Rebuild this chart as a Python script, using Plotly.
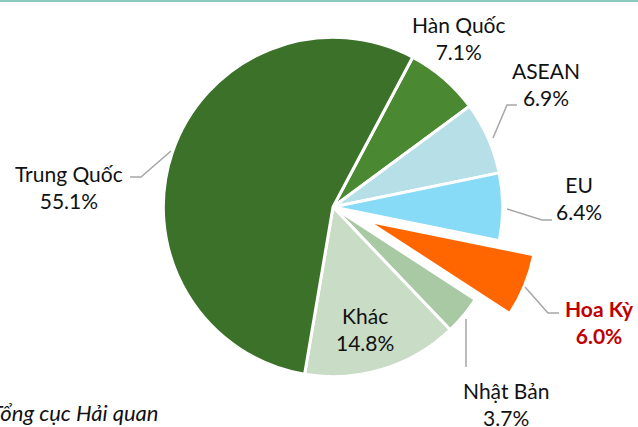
import plotly.graph_objects as go

# Data (share of imports by market, %)
labels = ["Hàn Quốc", "ASEAN", "EU", "Hoa Kỳ", "Nhật Bản", "Khác", "Trung Quốc"]
values = [7.1, 6.9, 6.4, 6.0, 3.7, 14.8, 55.1]
colors = ["#4A8932", "#B7DFE8", "#88DBF6", "#FF6600", "#A9C8A4", "#C9DCC5", "#3B7129"]
source = "Nguồn: Tổng cục Hải quan"

W, H = 638, 427
FONT = "Lato"


def px(x, y):
    # pixel position -> paper coords
    return x / W, 1 - y / H


fig = go.Figure(go.Pie(
    labels=labels,
    values=values,
    sort=False,
    direction="clockwise",
    rotation=28,
    pull=[0, 0, 0, 0.22, 0, 0, 0],
    marker=dict(colors=colors, line=dict(color="white", width=3)),
    textinfo="none",
    hoverinfo="label+percent",
    showlegend=False,
    domain=dict(x=[0.1975, 0.8464], y=[0.0304, 1.0]),
))

# label positions (pixel centers) and leader lines
label_pos = {
    "Hàn Quốc": (459, 38),
    "ASEAN": (546, 84),
    "EU": (579, 198),
    "Hoa Kỳ": (599, 322),
    "Nhật Bản": (506, 404),
    "Khác": (365, 329),
    "Trung Quốc": (69, 187),
}
leaders = [
    [(130, 177), (141, 177), (171, 151)],
    [(517, 105), (507, 105), (493, 138)],
    [(507, 209), (542, 220), (552, 220)],
    [(525, 287), (548, 313), (559, 313)],
    [(466, 319), (466, 367)],
]

annotations = []
for lab, val in zip(labels, values):
    x, y = px(*label_pos[lab])
    if lab == "Hoa Kỳ":
        text = f"<b>{lab}<br>{val:.1f}%</b>"
        col = "#C00000"
    else:
        text = f"{lab}<br>{val:.1f}%"
        col = "#111111"
    annotations.append(dict(
        x=x, y=y, xref="paper", yref="paper", text=text, showarrow=False,
        xanchor="center", yanchor="middle", align="center",
        font=dict(family=FONT, size=21, color=col),
    ))

sx, sy = px(161, 412)
annotations.append(dict(
    x=sx, y=sy, xref="paper", yref="paper", text=f"<i>{source}</i>",
    showarrow=False, xanchor="right", yanchor="middle",
    font=dict(family=FONT, size=22, color="#111111"),
))

shapes = []
for pts in leaders:
    path = ""
    for i, p in enumerate(pts):
        x, y = px(*p)
        path += ("M" if i == 0 else " L") + f"{x:.4f},{y:.4f}"
    shapes.append(dict(type="path", path=path, xref="paper", yref="paper",
                       line=dict(color="#A6A6A6", width=1.5)))

# thin teal border at the top
ty = px(0, 1)[1]
shapes.append(dict(type="line", xref="paper", yref="paper", x0=0, x1=1, y0=ty, y1=ty,
                   line=dict(color="#8CC9BF", width=2)))

fig.update_layout(
    width=W, height=H,
    margin=dict(l=0, r=0, t=0, b=0),
    paper_bgcolor="white",
    plot_bgcolor="white",
    annotations=annotations,
    shapes=shapes,
)

# drop the default page margin so the figure sits at the window corner
fig.write_html("out.html", config={"displayModeBar": False},
               post_script="document.body.style.margin='0';")
